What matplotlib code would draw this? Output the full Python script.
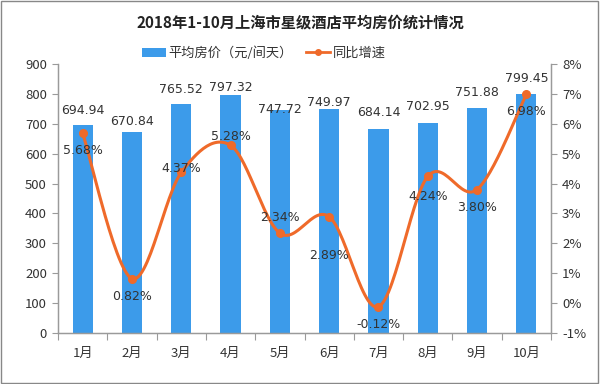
import matplotlib.pyplot as plt
import numpy as np
from matplotlib.patches import Rectangle
from matplotlib.lines import Line2D
from matplotlib.patches import Patch

plt.rcParams['font.family'] = ['Noto Sans CJK SC', 'DejaVu Sans']

months = ['1月', '2月', '3月', '4月', '5月', '6月', '7月', '8月', '9月', '10月']
price = [694.94, 670.84, 765.52, 797.32, 747.72, 749.97, 684.14, 702.95, 751.88, 799.45]
growth = [5.68, 0.82, 4.37, 5.28, 2.34, 2.89, -0.12, 4.24, 3.80, 6.98]

bar_color = '#3C9BEA'
line_color = '#EF6A2A'
text_color = '#333333'
axis_color = '#9A9A9A'

# label offsets in pixels (dy, relative to bar top / point)
bar_lbl_dy = [8, 4, 8, 1, -6, 0, 10, 10, 9, 9]
pct_lbl_dy = [-17, -18, 4, 9, 16, -39, -18, -20, -18, -17]


def smooth_curve(x, y, sx, sy, n=30):
    # Catmull-Rom spline in screen-like units, returns data coords
    px = np.asarray(x, float) * sx
    py = np.asarray(y, float) * sy
    pts = np.column_stack([px, py])
    pts = np.vstack([pts[0], pts, pts[-1]])
    out = []
    for i in range(1, len(pts) - 2):
        p0, p1, p2, p3 = pts[i - 1], pts[i], pts[i + 1], pts[i + 2]
        t = np.linspace(0, 1, n)[:, None]
        seg = 0.5 * ((2 * p1) + (-p0 + p2) * t
                     + (2 * p0 - 5 * p1 + 4 * p2 - p3) * t ** 2
                     + (-p0 + 3 * p1 - 3 * p2 + p3) * t ** 3)
        out.append(seg)
    out = np.vstack(out)
    return out[:, 0] / sx, out[:, 1] / sy


fig = plt.figure(figsize=(6, 3.84), dpi=100)
fig.patches.append(Rectangle((0.002, 0.003), 0.995, 0.994, transform=fig.transFigure,
                             fill=False, edgecolor='#888888', linewidth=1))

ax = fig.add_axes([58 / 600, 51 / 384, 493 / 600, 269 / 384])
ax2 = ax.twinx()

x = np.arange(len(months))
ax.bar(x, price, width=0.41, color=bar_color, zorder=2)
ax.set_xlim(-0.5, len(months) - 0.5)
ax.set_ylim(0, 900)
ax.set_yticks(np.arange(0, 901, 100))
ax2.set_ylim(-1, 8)
ax2.set_yticks(np.arange(-1, 9, 1))
ax2.set_yticklabels([f'{v}%' for v in range(-1, 9)])

# x axis: ticks at category boundaries, labels centered
ax.set_xticks(np.arange(-0.5, len(months), 1))
ax.set_xticklabels([])
ax.set_xticks(x, minor=True)
ax.set_xticklabels(months, minor=True)
ax.tick_params(axis='x', which='major', direction='out', length=5, color=axis_color)
ax.tick_params(axis='x', which='minor', length=0, pad=10, labelsize=9.5, labelcolor=text_color)
ax.tick_params(axis='y', direction='out', length=4, color=axis_color, labelsize=9.5,
               labelcolor=text_color, pad=4)
ax2.tick_params(axis='y', direction='out', length=4, color=axis_color, labelsize=9.5,
                labelcolor=text_color, pad=4)

for a in (ax, ax2):
    a.spines['top'].set_visible(False)
    for s in ('left', 'right', 'bottom'):
        a.spines[s].set_color(axis_color)
        a.spines[s].set_linewidth(0.9)

# smooth growth line
px_per_cat = 493 / 10
px_per_pct = 269 / 9
cx, cy = smooth_curve(x, growth, px_per_cat, px_per_pct)
ax2.plot(cx, cy, color=line_color, linewidth=2.2, zorder=4)
ax2.plot(x, growth, 'o', color=line_color, markersize=5.5, zorder=5)

for i, v in enumerate(price):
    ax.annotate(f'{v:.2f}', (x[i], v), xytext=(0, bar_lbl_dy[i] * 0.72), textcoords='offset points',
                ha='center', va='bottom', fontsize=9, color=text_color, zorder=6,
                family=['DejaVu Sans'])

for i, v in enumerate(growth):
    ax2.annotate(f'{v:.2f}%', (x[i], v), xytext=(0, pct_lbl_dy[i] * 0.72), textcoords='offset points',
                 ha='center', va='center', fontsize=9, color=text_color, zorder=6,
                 family=['DejaVu Sans'])

fig.text(0.5, 1 - 22 / 384, '2018年1-10月上海市星级酒店平均房价统计情况', ha='center', va='center',
         fontsize=11, fontweight='bold', color='#222222')

handles = [Patch(facecolor=bar_color, edgecolor='none'),
           Line2D([0], [0], color=line_color, linewidth=2, marker='o', markersize=4)]
fig.legend(handles, ['平均房价（元/间天）', '同比增速'], loc='center', bbox_to_anchor=(0.44, 1 - 53 / 384),
           ncol=2, frameon=False, fontsize=9.5, handlelength=1.8, handletextpad=0.2,
           columnspacing=1.0, labelcolor=text_color)

fig.savefig('out.png', dpi=100)
